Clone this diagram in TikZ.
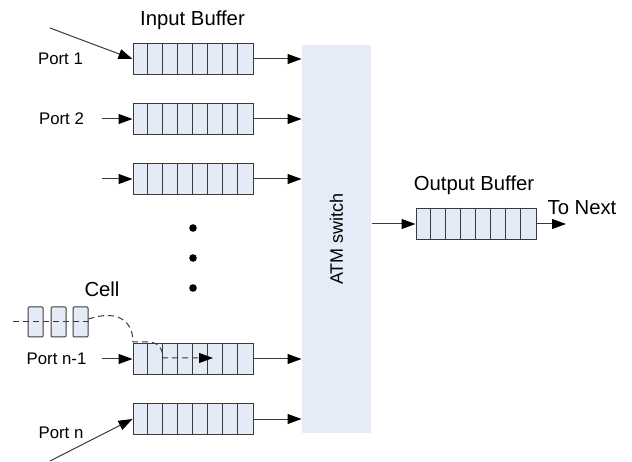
\documentclass[tikz,border=0pt]{standalone}
\usepackage{fontspec}
\setmainfont{Liberation Sans}
\usetikzlibrary{arrows.meta}
\definecolor{cellfill}{HTML}{E4EBF6}
\definecolor{swfill}{HTML}{E6ECF7}
\definecolor{linegray}{HTML}{3A3A3A}
\tikzset{
  buf/.style={draw=linegray, fill=cellfill, line width=1pt, minimum width=120pt,
    minimum height=31pt, inner sep=0pt},
  cellbox/.style={draw=linegray, fill=cellfill, line width=1pt, rounded corners=1pt,
    minimum width=15pt, minimum height=30pt, inner sep=0pt},
  lbl/.style={anchor=base, inner sep=0pt, font=\fontsize{16.8}{20}\selectfont},
  title/.style={anchor=base, inner sep=0pt, font=\fontsize{20.3}{24}\selectfont},
  >={Triangle[length=14pt,width=10pt,color=black]}
}
\begin{document}
\begin{tikzpicture}[x=1pt, y=-1pt, line width=1pt]
  \useasboundingbox (0,0) rectangle (632,462);
  % switch
  \node (sw) [fill=swfill, minimum width=69pt, minimum height=388pt, inner sep=0pt] at (336.5,239) {};
  \node [rotate=90, font=\fontsize{18}{22}\selectfont] at (sw.center) {ATM switch};
  % input buffers
  \node (in1) [buf] at (193,59) {};
  \node (in2) [buf] at (193,119) {};
  \node (in3) [buf] at (193,179) {};
  \node (inn1) [buf] at (193,359) {};
  \node (inn) [buf] at (193,419) {};
  \node (out) [buf] at (476,224) {};
  \foreach \b in {in1,in2,in3,inn1,inn,out}
    \foreach \i in {1,...,7}
      \draw [linegray] (\b.north west) ++(\i*15,0) -- ++(0,31);
  % labels
  \node (tin) [title] at (192.5,26) {Input Buffer};
  \node (tout) [title] at (474,191) {Output Buffer};
  \node (tnx) [title] at (582,215) {To Next};
  \node (tcell) [title] at (102,297) {Cell};
  \node (p1) [lbl] at (60.5,65) {Port 1};
  \node (p2) [lbl] at (61.5,125) {Port 2};
  \node (pn1) [lbl] at (56.5,365) {Port n-1};
  \node (pn) [lbl] at (61,438) {Port n};
  % dots
  \foreach \y in {228,258,288}
    \fill (193,\y) circle (3.8);
  % cell
  \node (c1) [cellbox] at (35.5,322) {};
  \node (c2) [cellbox] at (58.5,322) {};
  \node (c3) [cellbox] at (80.5,322) {};
  % free ends
  \coordinate (s1) at (50,28);
  \coordinate (s2) at (102,119);
  \coordinate (s3) at (102,179);
  \coordinate (sn1) at (102,359);
  \coordinate (sn) at (50,461);
  \coordinate (nx) at (566,224);
  \coordinate (cs) at (13,322);
  \draw [->, linegray] (s1) -- (in1.west);
  \draw [->, linegray] (s2) -- (in2.west);
  \draw [->, linegray] (s3) -- (in3.west);
  \draw [->, linegray] (sn1) -- (inn1.west);
  \draw [->, linegray] (sn) -- (inn.west);
  \foreach \b in {in1,in2,in3,inn1,inn}
    \draw [->, linegray] (\b.east) -- (\b.east -| sw.west);
  \draw [->, linegray] (sw.east |- out.west) -- (out.west);
  \draw [->, linegray] (out.east) -- (nx);
  % cell path
  \draw [dashed, linegray, dash pattern=on 6pt off 4pt] (cs) -- (c3.east);
  \draw [->, dashed, linegray, dash pattern=on 6pt off 4pt] (c3.east) ++(0,-3)
    .. controls (122,308) and (133,325) .. (133,342) -- (150,342)
    .. controls (159,343) and (163,350) .. (163,358) -- (213,358);
\end{tikzpicture}
\end{document}
